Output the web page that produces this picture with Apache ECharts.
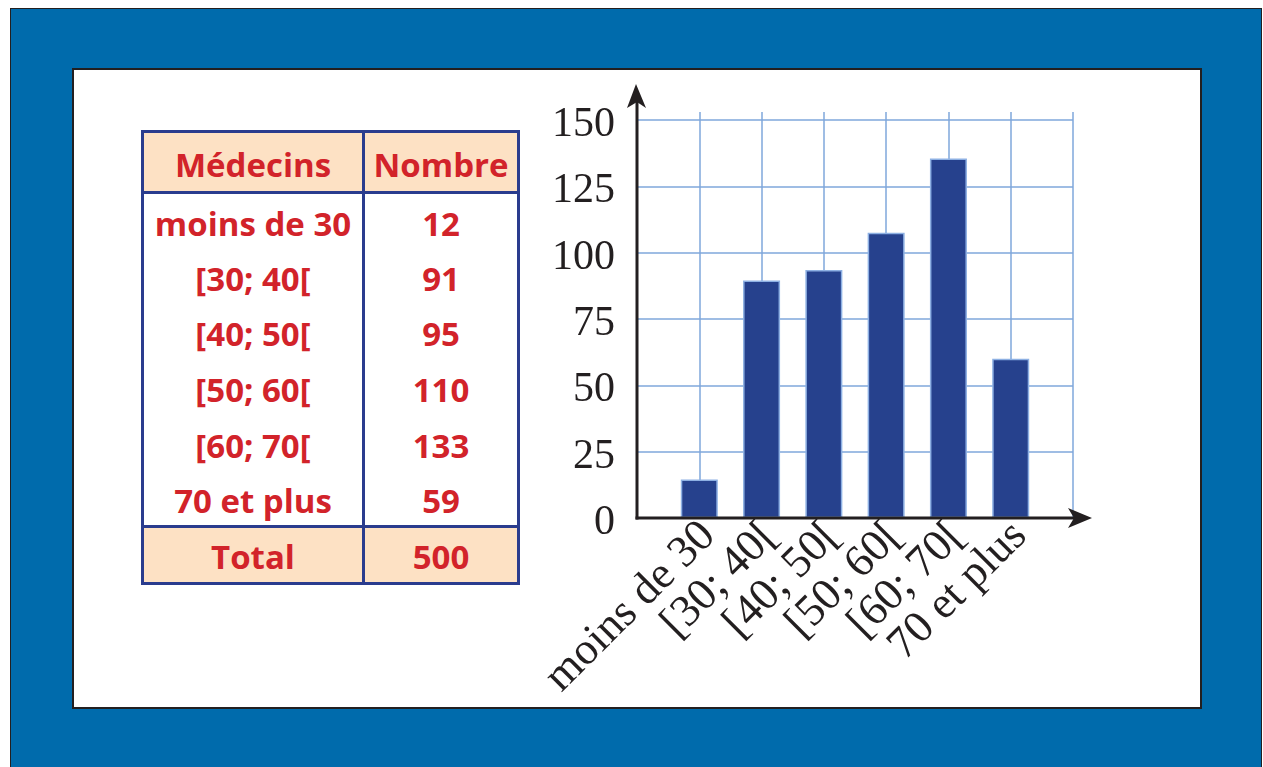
<!DOCTYPE html>
<html><head><meta charset="utf-8">
<script src="https://cdn.jsdelivr.net/npm/echarts@6/dist/echarts.min.js"></script>
<style>
html,body{margin:0;padding:0;width:1263px;height:767px;overflow:hidden;background:#fff;}
#frame{position:absolute;left:10px;top:8px;width:1252px;height:790px;background:#006BAC;border:1.5px solid #231F20;box-sizing:border-box;}
#panel{position:absolute;left:72px;top:68px;width:1130px;height:641px;background:#fff;border:2.5px solid #231F20;box-sizing:border-box;}
#chart{position:absolute;left:0;top:0;width:1263px;height:767px;}
#tbl{position:absolute;left:141px;top:130px;border-collapse:collapse;font-family:"Open Sans",sans-serif;font-weight:700;color:#D2232A;font-size:33px;}
#tbl td{border-left:3px solid #2A3C8E;border-right:3px solid #2A3C8E;text-align:center;padding:0;line-height:1;white-space:nowrap;}
#tbl tr.hd td{background:#FDE1C4;height:52.5px;border-top:3px solid #2A3C8E;border-bottom:3px solid #2A3C8E;padding-top:5px;}
#tbl tr.bd td{height:55.8px;padding-top:5px;box-sizing:border-box;}
#tbl tr.tt td{background:#FDE1C4;height:52px;border-top:3px solid #2A3C8E;border-bottom:3px solid #2A3C8E;padding-top:2px;}
#tbl td.c1{width:218px;}
#tbl td.c2{width:152px;}
</style>
</head>
<body>
<div id="frame"></div>
<div id="panel"></div>
<table id="tbl"></table>
<div id="chart"></div>
<script>
// ---- data ----
const categories = ['moins de 30', '[30; 40[', '[40; 50[', '[50; 60[', '[60; 70[', '70 et plus'];
const barValues = [14.5, 89.5, 93.5, 107.5, 135.5, 60];
const yTicks = [0, 25, 50, 75, 100, 125, 150];
const tableHeaders = ['Médecins', 'Nombre'];
const tableCounts = [12, 91, 95, 110, 133, 59];
const totalLabel = 'Total';
const tableTotal = 500;

// ---- table ----
const tbl = document.getElementById('tbl');
let html = '<tr class="hd"><td class="c1">' + tableHeaders[0] + '</td><td class="c2">' + tableHeaders[1] + '</td></tr>';
categories.forEach(function (c, i) {
  html += '<tr class="bd"><td class="c1">' + c + '</td><td class="c2">' + tableCounts[i] + '</td></tr>';
});
html += '<tr class="tt"><td class="c1">' + totalLabel + '</td><td class="c2">' + tableTotal + '</td></tr>';
tbl.innerHTML = html;

// ---- chart ----
const chart = echarts.init(document.getElementById('chart'), null, { renderer: 'canvas' });
const xData = [''].concat(categories, ['']);
const gridColor = '#7FA7DB';
const ink = '#231F20';
const option = {
  animation: false,
  grid: { left: 637, right: 190, top: 112, bottom: 249 },
  xAxis: {
    type: 'category', data: xData, boundaryGap: false,
    axisLine: { show: false }, axisTick: { show: false },
    splitLine: { show: true, interval: 0, lineStyle: { color: gridColor, width: 1.5 } },
    axisLabel: {
      interval: 0, rotate: 45, margin: 2, verticalAlign: 'top', lineHeight: 26,
      fontFamily: 'Liberation Serif', fontSize: 45, color: ink
    }
  },
  yAxis: {
    type: 'value', min: yTicks[0], max: 153, interval: yTicks[1] - yTicks[0],
    axisLine: { show: false }, axisTick: { show: false },
    splitLine: { show: true, showMaxLine: false, lineStyle: { color: gridColor, width: 1.5 } },
    axisLabel: {
      margin: 22, fontFamily: 'Liberation Serif', fontSize: 42, color: ink, showMaxLabel: false,
      verticalAlign: 'top', lineHeight: 10,
      formatter: function (v) { return yTicks.indexOf(v) >= 0 ? String(v) : ''; }
    }
  },
  series: [{
    type: 'bar', data: [null].concat(barValues, [null]), barWidth: 37,
    itemStyle: { color: '#26418D', borderColor: '#8DB0E3', borderWidth: 1.5 }
  }]
};
chart.setOption(option);

// axis arrows, positioned through the chart's own scales
const o = chart.convertToPixel({ gridIndex: 0 }, [0, 0]);
const yTop = chart.convertToPixel({ gridIndex: 0 }, [0, yTicks[yTicks.length - 1]]);
const xEnd = chart.convertToPixel({ gridIndex: 0 }, [xData.length - 1, 0]);
const tipY = yTop[1] - 36;
const tipX = xEnd[0] + 19;
const ox = o[0], oy = o[1];
chart.setOption({
  graphic: [
    { type: 'line', z: 100, shape: { x1: ox, y1: oy + 1.5, x2: ox, y2: tipY + 12 }, style: { stroke: ink, lineWidth: 3 } },
    { type: 'polygon', z: 100, shape: { points: [[ox - 1, tipY], [ox + 9, tipY + 24], [ox, tipY + 18], [ox - 10, tipY + 24]] }, style: { fill: ink } },
    { type: 'line', z: 100, shape: { x1: ox - 1.5, y1: oy, x2: tipX - 12, y2: oy }, style: { stroke: ink, lineWidth: 3 } },
    { type: 'polygon', z: 100, shape: { points: [[tipX, oy], [tipX - 24, oy - 10], [tipX - 18, oy], [tipX - 24, oy + 10]] }, style: { fill: ink } }
  ]
});
</script>
</body></html>
